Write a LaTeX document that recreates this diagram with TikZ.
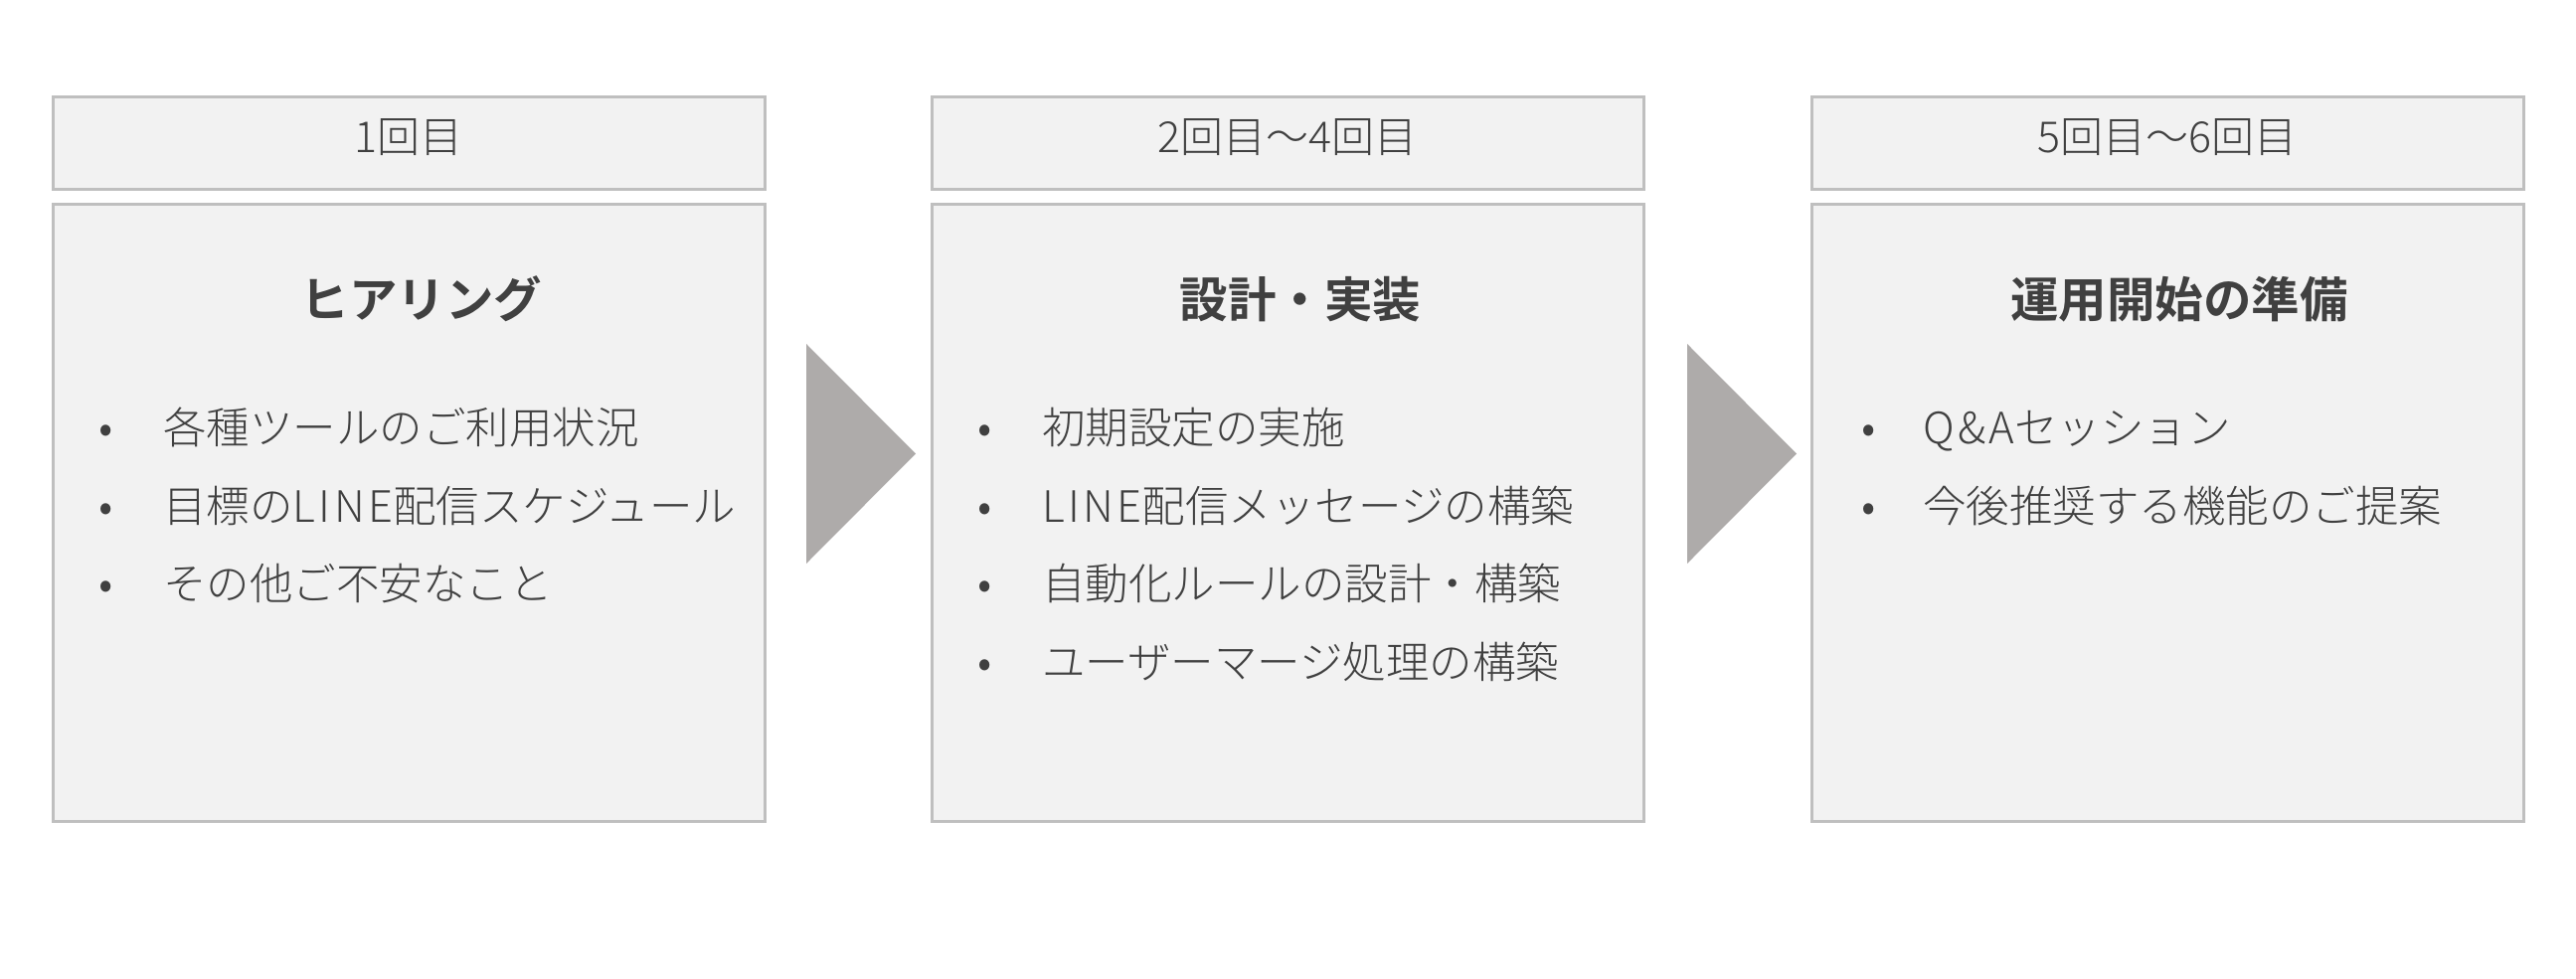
\documentclass[tikz,border=0pt]{standalone}
\usepackage{fontspec}
\setmainfont{Noto Sans CJK JP}[UprightFont={* Light},BoldFont={* Bold}]
\newcommand{\lsp}[1]{{\addfontfeature{LetterSpace=8}#1}}
\definecolor{boxfill}{HTML}{F2F2F2}
\definecolor{boxline}{HTML}{BFBFBF}
\definecolor{txt}{HTML}{404040}
\definecolor{arrowgray}{HTML}{AEABAA}
\begin{document}
\begin{tikzpicture}[x=1pt,y=-1pt,
  hdrbox/.style={draw=boxline,fill=boxfill,line width=3pt,minimum width=716pt,minimum height=93pt,inner sep=0pt},
  hdrtext/.style={text=txt,font=\fontsize{43}{50}\selectfont,inner sep=0pt,text height=0.8em,text depth=0.05em},
  mainbox/.style={draw=boxline,fill=boxfill,line width=3pt,minimum width=716pt,minimum height=621pt,inner sep=0pt},
  titletext/.style={text=txt,font=\fontsize{48.5}{56}\selectfont\bfseries,inner sep=0pt,text height=0.8em,text depth=0.05em},
  bul/.style={text=txt,font=\fontsize{45}{50}\selectfont,inner sep=0pt,text height=0.8em,text depth=0.05em},
  item/.style={text=txt,font=\fontsize{43.5}{50}\selectfont,inner sep=0pt,anchor=west,text height=0.8em,text depth=0.05em},
  tri/.style={fill=arrowgray}]
\useasboundingbox (0,0) rectangle (2591,985);
% headers
\node[hdrbox] (h1) at (411,143.5) {};
\node[hdrbox] (h2) at (1295,143.5) {};
\node[hdrbox] (h3) at (2180,143.5) {};
\node[hdrtext] (ht1) at (411,150) {1回目};
\node[hdrtext] (ht2) at (1295,150) {2回目～4回目};
\node[hdrtext] (ht3) at (2180,150) {5回目～6回目};
% main boxes
\node[mainbox] (m1) at (411,515.5) {};
\node[mainbox] (m2) at (1295,515.5) {};
\node[mainbox] (m3) at (2180,515.5) {};
% titles
\node[titletext] (t1) at (424,316) {ヒアリング};
\node[titletext] (t2) at (1308,316) {設計・実装};
\node[titletext] (t3) at (2192,316) {運用開始の準備};
% arrows
\fill[tri] (811,346) -- (921,456.5) -- (811,567) -- cycle;
\fill[tri] (1697,346) -- (1807,456.5) -- (1697,567) -- cycle;
% box 1 items
\node[bul] (b11) at (107,443) {•};
\node[item] (i11) at (164,443) {各種ツールのご利用状況};
\node[bul] (b12) at (107,521.5) {•};
\node[item] (i12) at (164,521.5) {目標の\lsp{LINE}配信スケジュール};
\node[bul] (b13) at (107,600) {•};
\node[item] (i13) at (164,600) {その他ご不安なこと};
% box 2 items
\node[bul] (b21) at (991,443) {•};
\node[item] (i21) at (1048,443) {初期設定の実施};
\node[bul] (b22) at (991,521.5) {•};
\node[item] (i22) at (1048,521.5) {\lsp{LINE}配信メッセージの構築};
\node[bul] (b23) at (991,600) {•};
\node[item] (i23) at (1048,600) {自動化ルールの設計・構築};
\node[bul] (b24) at (991,678.5) {•};
\node[item] (i24) at (1048,678.5) {ユーザーマージ処理の構築};
% box 3 items
\node[bul] (b31) at (1880,443) {•};
\node[item] (i31) at (1934,443) {\lsp{Q\&A}セッション};
\node[bul] (b32) at (1880,521.5) {•};
\node[item] (i32) at (1934,521.5) {今後推奨する機能のご提案};
\end{tikzpicture}
\end{document}
